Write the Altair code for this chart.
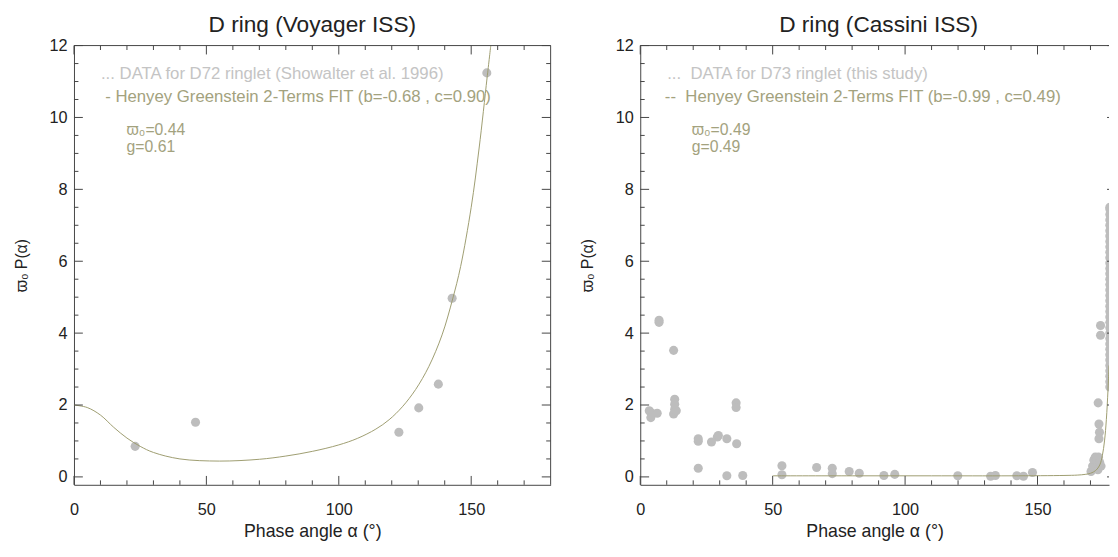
import altair as alt
import pandas as pd

FONT = "Liberation Sans"
FRAME = "#444444"
TXT = "#222222"
PT_COLOR = "#bdbdbd"
FIT_COLOR = "#9d9c70"
FIT_TXT = "#a3a27e"
DATA_TXT = "#c4c4c4"

# ---------------- data ----------------
titles = ["D ring (Voyager ISS)", "D ring (Cassini ISS)"]
x_title = "Phase angle α (°)"
y_title = "ϖ₀ P(α)"

left_x = [23.1, 45.9, 122.7, 130.2, 137.6, 142.8, 155.9]
left_y = [0.85, 1.52, 1.24, 1.92, 2.58, 4.97, 11.24]

left_fit_x = [0, 5, 10, 15, 20, 25, 30, 40, 55, 70, 80, 90, 100, 107, 114,
              119, 124, 129, 134, 139, 143, 146, 150, 153, 156, 157.4]
left_fit_y = [2.0, 1.93, 1.72, 1.38, 1.08, 0.85, 0.68, 0.50, 0.44, 0.49, 0.58,
              0.71, 0.89, 1.07, 1.33, 1.59, 1.95, 2.43, 3.07, 3.95, 4.95, 5.85,
              7.5, 9.15, 11.1, 12.0]

right_x = [3.4, 4.0, 4.0, 6.4, 7.1, 7.1, 12.6, 13.0, 13.0, 13.0, 12.6, 13.6,
           21.9, 21.9, 21.9, 26.9, 29.1, 29.5, 32.7, 32.7, 36.4, 36.2, 36.2, 38.7,
           53.5, 53.5, 66.6, 72.5, 72.5, 78.9, 82.7, 92.0, 96.1, 119.9, 132.3,
           134.1, 142.2, 144.7, 148.1,
           170.2, 170.8, 171.3, 171.4, 171.8, 172.0, 172.3, 172.8, 173.0, 173.5,
           174.0, 172.9, 173.2, 173.4, 173.2, 173.8, 173.8]
right_y = [1.84, 1.79, 1.65, 1.77, 4.30, 4.36, 3.52, 2.16, 2.02, 1.88, 1.75, 1.84,
           0.99, 1.06, 0.24, 0.97, 1.11, 1.15, 1.06, 0.03, 0.92, 2.06, 1.93, 0.04,
           0.31, 0.06, 0.26, 0.24, 0.09, 0.15, 0.10, 0.04, 0.07, 0.03, 0.02,
           0.04, 0.03, 0.02, 0.12,
           0.15, 0.30, 0.47, 0.46, 0.55, 0.51, 0.45, 0.20, 0.55, 0.40,
           0.30, 2.06, 1.47, 1.24, 1.06, 4.21, 3.94]
# dense column of points near 177 deg
col_x = 177.3
col_y = [2.50, 2.65, 2.80, 2.95, 3.10, 3.25, 3.40, 3.55, 3.70, 3.85, 4.00, 4.15,
         4.30, 4.45, 4.60, 4.75, 4.90, 5.05, 5.20, 5.35, 5.50, 5.65, 5.80, 5.95,
         6.10, 6.25, 6.40, 6.55, 6.70, 6.85, 7.00, 7.15, 7.30, 7.45, 7.50]

right_fit_x = [50, 80, 110, 140, 160, 165, 168, 170, 172, 173.5, 174.5, 175.3,
               176.0, 176.6, 177.0]
right_fit_y = [0.03, 0.03, 0.03, 0.03, 0.04, 0.05, 0.07, 0.10, 0.18, 0.33, 0.60,
               1.00, 1.60, 2.40, 3.10]

legend_left = ["... DATA for D72 ringlet (Showalter et al. 1996)",
               "- Henyey Greenstein 2-Terms FIT (b=-0.68 , c=0.90)",
               "ϖ₀=0.44", "g=0.61"]
legend_right = ["...\u00a0 DATA for D73 ringlet (this study)",
                "--\u00a0 Henyey Greenstein 2-Terms FIT (b=-0.99 , c=0.49)",
                "ϖ₀=0.49", "g=0.49"]

x_major = [0, 50, 100, 150]
x_minor = [10, 20, 30, 40, 60, 70, 80, 90, 110, 120, 130, 140, 160, 170]
y_major = [0, 2, 4, 6, 8, 10, 12]
y_minor = [0.5, 1, 1.5, 2.5, 3, 3.5, 4.5, 5, 5.5, 6.5, 7, 7.5, 8.5, 9, 9.5,
           10.5, 11, 11.5]

# ---------------- layout ----------------
H = 446
FULL_W = 484
W_LEFT = 484
W_RIGHT = 476
X_MAX_LEFT = 180
X_MAX_RIGHT = 177.0
Y_DOMAIN = [-0.22, 12]
MAJ = 9
MIN = 4.5


def panel(title, pts, fit, legend, legend_pos, width, xmax, right_frame,
          right_stub):
    xs = alt.Scale(domain=[0, xmax], nice=False, zero=False)
    ys = alt.Scale(domain=Y_DOMAIN, nice=False, zero=False)
    xaxis = alt.Axis(values=x_major, title=x_title, ticks=False, tickSize=0,
                     domain=True, domainColor=FRAME, domainWidth=1, grid=False,
                     labelFont=FONT, labelFontSize=16.5, labelColor=TXT,
                     labelPadding=17, labelFlush=False,
                     titleFont=FONT, titleFontSize=18, titleFontWeight="normal",
                     titleColor=TXT, titlePadding=5)
    yaxis = alt.Axis(values=y_major, title=y_title, ticks=False, tickSize=0,
                     domain=True, domainColor=FRAME, domainWidth=1, grid=False,
                     labelFont=FONT, labelFontSize=16.5, labelColor=TXT,
                     labelPadding=7, labelFlush=False,
                     titleFont=FONT, titleFontSize=16, titleFontWeight="normal",
                     titleColor=TXT, titlePadding=20)

    X = lambda: alt.X("x:Q", scale=xs, axis=xaxis)
    Y = lambda: alt.Y("y:Q", scale=ys, axis=yaxis)

    layers = []
    layers.append(alt.Chart(pts).mark_circle(size=85, color=PT_COLOR, opacity=1,
                                             clip=True).encode(x=X(), y=Y()))
    layers.append(alt.Chart(fit).mark_line(color=FIT_COLOR, strokeWidth=1,
                                           clip=True, interpolate="catmull-rom")
                  .encode(x=X(), y=Y(), order="x:Q"))

    xmaj = pd.DataFrame({"x": x_major})
    xmin = pd.DataFrame({"x": x_minor})
    ymaj = pd.DataFrame({"y": y_major})
    ymin = pd.DataFrame({"y": y_minor})
    tk = dict(color=FRAME, strokeWidth=1)
    for d, ln in ((xmaj, MAJ), (xmin, MIN)):
        layers.append(alt.Chart(d).mark_rule(**tk).encode(
            x=X(), y=alt.value(H), y2=alt.value(H - ln)))
        layers.append(alt.Chart(d).mark_rule(**tk).encode(
            x=X(), y=alt.value(0), y2=alt.value(ln)))
    for d, ln in ((ymaj, MAJ), (ymin, MIN)):
        layers.append(alt.Chart(d).mark_rule(**tk).encode(
            y=Y(), x=alt.value(0), x2=alt.value(ln)))
    if right_frame:
        for d, ln in ((ymaj, MAJ), (ymin, MIN)):
            layers.append(alt.Chart(d).mark_rule(**tk).encode(
                y=Y(), x=alt.value(width), x2=alt.value(width - ln)))
    if right_stub:
        layers.append(alt.Chart(ymaj).mark_rule(**tk).encode(
            y=Y(), x=alt.value(width), x2=alt.value(width - 2)))

    one = pd.DataFrame({"a": [0]})
    layers.append(alt.Chart(one).mark_rule(**tk).encode(
        x=alt.value(0), x2=alt.value(width), y=alt.value(0)))
    if right_frame:
        layers.append(alt.Chart(one).mark_rule(**tk).encode(
            x=alt.value(width), y=alt.value(0), y2=alt.value(H)))

    colors = [DATA_TXT, FIT_TXT, FIT_TXT, FIT_TXT]
    sizes = [17, 17, 16, 16]
    for t, (px, py), c, fs in zip(legend, legend_pos, colors, sizes):
        layers.append(alt.Chart(pd.DataFrame({"t": [t]})).mark_text(
            align="left", baseline="middle", font=FONT, fontSize=fs, color=c
        ).encode(x=alt.value(px), y=alt.value(py), text="t:N"))

    layers.append(alt.Chart(pd.DataFrame({"t": [title]})).mark_text(
        align="center", baseline="alphabetic", font=FONT, fontSize=23,
        color=TXT
    ).encode(x=alt.value(FULL_W / 2), y=alt.value(-14), text="t:N"))

    return alt.layer(*layers).properties(width=width, height=H)


left_pts = pd.DataFrame({"x": left_x, "y": left_y})
left_fit = pd.DataFrame({"x": left_fit_x, "y": left_fit_y})
left = panel(titles[0], left_pts, left_fit, legend_left,
             [(27.4, 29.3), (31.7, 52.7), (53.4, 85.6), (53.4, 103.0)],
             W_LEFT, X_MAX_LEFT, True, False)

right_pts = pd.concat([pd.DataFrame({"x": right_x, "y": right_y}),
                       pd.DataFrame({"x": col_x, "y": col_y})],
                      ignore_index=True)
right_fit = pd.DataFrame({"x": right_fit_x, "y": right_fit_y})
right = panel(titles[1], right_pts, right_fit, legend_right,
              [(27.3, 29.3), (25.0, 52.7), (52.3, 85.6), (52.3, 103.0)],
              W_RIGHT, X_MAX_RIGHT, False, True)

chart = alt.hconcat(left, right, spacing=28).configure_view(
    stroke=None).properties(
    padding={"left": 5, "top": 2, "right": 0, "bottom": 2},
    background="white")

chart.save("out.html", embed_options={"renderer": "svg", "actions": False})
